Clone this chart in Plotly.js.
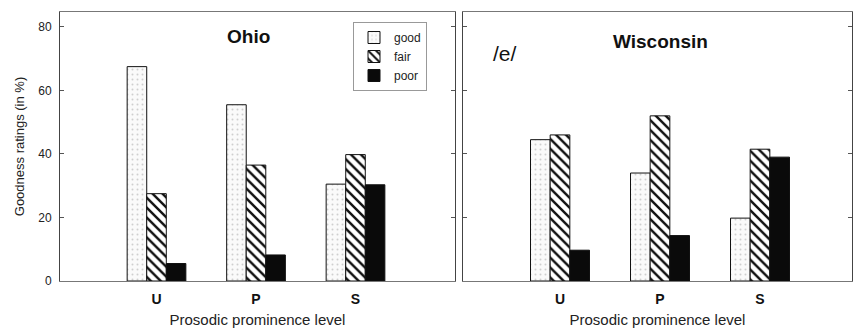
<!DOCTYPE html>
<html>
<head>
<meta charset="utf-8">
<script src="https://cdn.plot.ly/plotly-3.0.1.min.js"></script>
<style>html,body{margin:0;padding:0;background:#fff;}#chart{width:854px;height:328px;}</style>
</head>
<body>
<div id="chart"></div>
<script>
const categories = ['U', 'P', 'S'];
const catPositions = [1, 2, 3];
const seriesNames = ['good', 'fair', 'poor'];
const ohioGood = [67.5, 55.5, 30.5];
const ohioFair = [27.5, 36.5, 39.8];
const ohioPoor = [5.5, 8.2, 30.3];
const wiscGood = [44.5, 34.0, 19.8];
const wiscFair = [46.0, 52.0, 41.5];
const wiscPoor = [9.7, 14.3, 39.0];
const yTicks = [0, 20, 40, 60, 80];

const styles = {
  good: {color: '#fafafa', line: {color: '#111', width: 1}, pattern: {shape: '.', fgcolor: '#cfcfcf', bgcolor: '#fafafa', size: 5, solidity: 0.12}},
  fair: {color: '#fff', line: {color: '#111', width: 1}, pattern: {shape: '\\', fgcolor: '#111', bgcolor: '#fff', size: 7, solidity: 0.35}},
  poor: {color: '#0a0a0a', line: {color: '#111', width: 1}}
};

const panels = [
  {vals: [ohioGood, ohioFair, ohioPoor], xa: 'x', ya: 'y', legend: true},
  {vals: [wiscGood, wiscFair, wiscPoor], xa: 'x2', ya: 'y2', legend: false}
];

const data = [];
panels.forEach(p => {
  seriesNames.forEach((name, i) => {
    data.push({
      type: 'bar', name: name, x: catPositions, y: p.vals[i],
      xaxis: p.xa, yaxis: p.ya, marker: styles[name],
      showlegend: p.legend, legendgroup: name, hoverinfo: 'skip'
    });
  });
});

const W = 854, H = 328;
const fontFam = 'Arial, "Liberation Sans", sans-serif';
const yDom = [(H - 281) / H, (H - 12) / H];
const xAxisBase = {
  tickmode: 'array', tickvals: catPositions, ticktext: categories,
  ticks: '', showline: true, mirror: true, linecolor: '#777', linewidth: 1,
  showgrid: false, zeroline: false, automargin: false, fixedrange: true,
  tickfont: {family: fontFam, size: 14, color: '#111', weight: 'bold'},
  ticklabelstandoff: 5,
  title: {text: 'Prosodic prominence level', font: {family: fontFam, size: 15, color: '#222'}, standoff: 8}
};
const yAxisBase = {
  range: [0, 84.7], tickvals: yTicks, ticks: 'inside', ticklen: 4, tickcolor: '#555',
  showline: true, mirror: 'ticks', linecolor: '#444', linewidth: 1,
  showgrid: false, zeroline: false, automargin: false, fixedrange: true,
  domain: yDom,
  tickfont: {family: fontFam, size: 12, color: '#222'}
};

const layout = {
  width: W, height: H,
  margin: {l: 0, r: 0, t: 0, b: 0},
  paper_bgcolor: '#fff', plot_bgcolor: '#fff',
  barmode: 'group', bargap: 0.41, bargroupgap: 0,
  font: {family: fontFam, color: '#222'},
  xaxis: Object.assign({}, xAxisBase, {domain: [60 / W, 455 / W], range: [0.03, 4.0], anchor: 'y'}),
  xaxis2: Object.assign({}, xAxisBase, {domain: [463 / W, 852 / W], range: [0.03, 3.92], anchor: 'y2'}),
  yaxis: Object.assign({}, yAxisBase, {anchor: 'x', ticklabelstandoff: 5,
    title: {text: 'Goodness ratings (in %)', font: {family: fontFam, size: 13, color: '#222'}, standoff: 10}}),
  yaxis2: Object.assign({}, yAxisBase, {anchor: 'x2', showticklabels: false}),
  showlegend: true,
  legend: {
    x: 353 / W, y: (H - 22) / H, xanchor: 'left', yanchor: 'top',
    bgcolor: '#fff', bordercolor: '#999', borderwidth: 1,
    font: {family: fontFam, size: 12, color: '#222'},
    itemwidth: 30, tracegroupgap: 0, traceorder: 'normal'
  },
  annotations: [
    {text: '<b>Ohio</b>', xref: 'x', yref: 'paper', x: 1.92, y: (H - 24) / H, showarrow: false,
     font: {family: fontFam, size: 19, color: '#111'}},
    {text: '<b>Wisconsin</b>', xref: 'x2', yref: 'paper', x: 2.0, y: (H - 29) / H, showarrow: false,
     font: {family: fontFam, size: 19, color: '#111'}},
    {text: '/e/', xref: 'paper', yref: 'paper', x: 505 / W, y: (H - 40) / H, showarrow: false,
     font: {family: fontFam, size: 21, color: '#111'}}
  ]
};

Plotly.newPlot('chart', data, layout, {displayModeBar: false, staticPlot: true});
</script>
</body>
</html>
